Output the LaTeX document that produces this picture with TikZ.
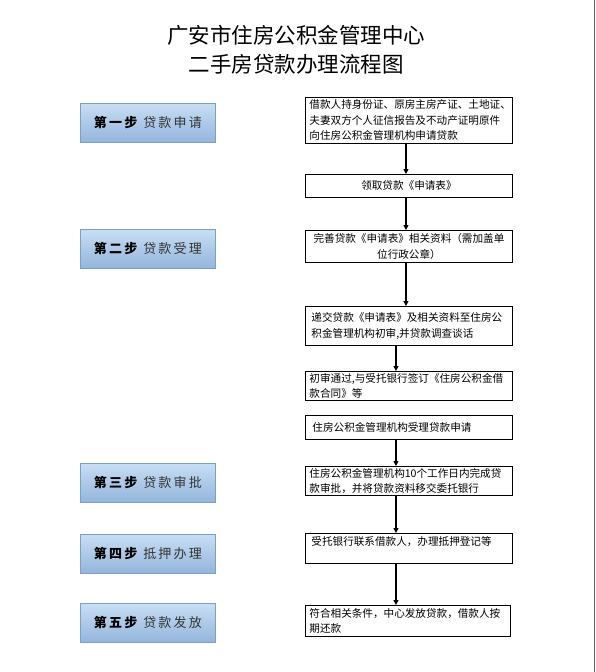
\documentclass[tikz,border=0pt]{standalone}
\usepackage{fontspec}
\setmainfont{Noto Sans CJK SC}
\usetikzlibrary{arrows.meta}
\definecolor{stepTop}{HTML}{C8DEF4}
\definecolor{stepBot}{HTML}{93B5DC}
\definecolor{stepLine}{HTML}{7C9EC8}
\tikzset{
  stepbox/.style={draw=stepLine, line width=0.8pt, top color=stepTop, bottom color=stepBot,
    minimum width=135pt, minimum height=39pt, anchor=north west, inner sep=0pt,
    font=\fontsize{13}{15}\selectfont},
  procbox/.style={draw=black, line width=0.9pt, fill=white, anchor=north west,
    text width=199pt, inner xsep=4pt, inner ysep=1pt,
    font=\fontsize{10.6}{15.5}\selectfont, align=left},
  arr/.style={draw=black, line width=1.1pt, -{Triangle[length=5pt,width=5pt]}},
}
\newcommand{\stp}[2]{\textbf{#1}\hspace{6pt}{\color{black!80}#2}}
\begin{document}
\begin{tikzpicture}[x=1pt,y=-1pt]
\useasboundingbox (0,0) rectangle (595,672);
\fill[white] (0,0) rectangle (595,672);
\draw[black!60, line width=1pt] (594,0) -- (594,672);

\node[font=\fontsize{21.5}{26}\selectfont] (t1) at (296,35) {广安市住房公积金管理中心};
\node[font=\fontsize{21.5}{26}\selectfont] (t2) at (296,64) {二手房贷款办理流程图};

% left steps
\node[stepbox] (s1) at (80,103) {\stp{第\,一\,步}{贷\,款\,申\,请}};
\node[stepbox] (s2) at (80,229) {\stp{第\,二\,步}{贷\,款\,受\,理}};
\node[stepbox] (s3) at (80,463) {\stp{第\,三\,步}{贷\,款\,审\,批}};
\node[stepbox] (s4) at (80,534) {\stp{第\,四\,步}{抵\,押\,办\,理}};
\node[stepbox] (s5) at (80,603) {\stp{第\,五\,步}{贷\,款\,发\,放}};

% right process boxes
\node[procbox, minimum height=46pt] (b1) at (305,97)
  {借款人持身份证、原房主房产证、土地证、\\夫妻双方个人征信报告及不动产证明原件\\向住房公积金管理机构申请贷款};
\node[procbox, minimum height=23pt, align=center] (b2) at (305,174)
  {领取贷款《申请表》};
\node[procbox, minimum height=32pt, align=center] (b3) at (305,230)
  {完善贷款《申请表》相关资料（需加盖单\\位行政公章）};
\node[procbox, minimum height=39pt, inner xsep=6pt, text width=195pt] (b4) at (305,306)
  {递交贷款《申请表》及相关资料至住房公\\积金管理机构初审,并贷款调查谈话};
\node[procbox, minimum height=29pt] (b5) at (305,371)
  {初审通过,与受托银行签订《住房公积金借\\款合同》等};
\node[procbox, minimum height=24pt, inner xsep=7pt, text width=193pt] (b6) at (305,415)
  {住房公积金管理机构受理贷款申请};
\node[procbox, minimum height=29pt] (b7) at (305,466)
  {住房公积金管理机构10个工作日内完成贷\\款审批，并将贷款资料移交委托银行};
\node[procbox, minimum height=30pt, inner xsep=6pt, text width=195pt] (b8) at (305,533)
  {受托银行联系借款人，办理抵押登记等\\\mbox{}};
\node[procbox, minimum height=31pt, text width=197pt] (b9) at (305,605)
  {符合相关条件，中心发放贷款，借款人按\\期还款};

% connectors
\draw[arr] ([xshift=-3pt]b1.south) -- ([xshift=-3pt]b2.north);
\draw[arr] ([xshift=-3pt]b2.south) -- ([xshift=-3pt]b3.north);
\draw[arr] ([xshift=-3pt]b3.south) -- ([xshift=-3pt]b4.north);
\draw[arr] ([xshift=-13pt]b4.south) -- ([xshift=-13pt]b5.north);
\draw[arr] ([xshift=-13pt]b6.south) -- ([xshift=-13pt]b7.north);
\draw[arr] ([xshift=-13pt]b7.south) -- ([xshift=-13pt]b8.north);
\draw[arr] ([xshift=-13pt]b8.south) -- ([xshift=-12pt]b9.north);
\end{tikzpicture}
\end{document}
